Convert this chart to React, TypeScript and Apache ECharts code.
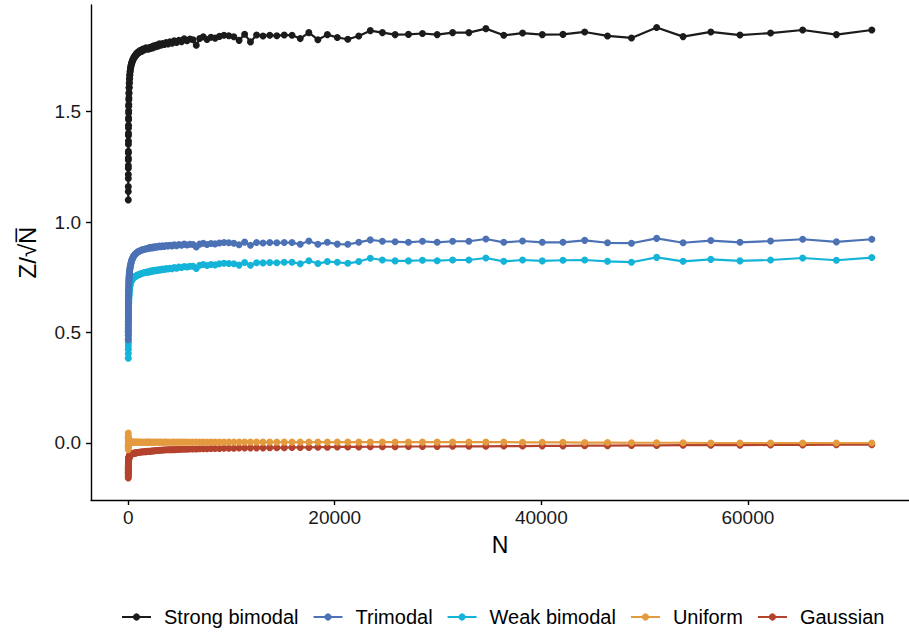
import React, { useEffect, useRef } from "react";
import * as echarts from "echarts";

const N = [
  10, 11, 12, 13, 14, 15, 16, 17, 18, 19,
  20, 22, 24, 26, 28, 30, 33, 36, 39, 42,
  46, 50, 55, 60, 66, 72, 79, 87, 95, 104,
  114, 125, 137, 150, 165, 181, 199, 218, 240, 263,
  289, 317, 348, 382, 420, 461, 506, 556, 611, 671,
  737, 810, 890, 977, 1074, 1180, 1296, 1424, 1564, 1718,
  1840, 1947, 2044, 2147, 2254, 2367, 2485, 2609, 2740, 2877,
  3020, 3171, 3330, 3497, 3671, 3855, 4048, 4250, 4462, 4686,
  4920, 5166, 5424, 5695, 5980, 6279, 6593, 6923, 7269, 7632,
  8014, 8414, 8835, 9277, 9741, 10228, 10739, 11276, 11840, 12432,
  13053, 13706, 14391, 15110, 15866, 16659, 17492, 18367, 19285, 20249,
  21262, 22325, 23441, 24613, 25844, 27136, 28493, 29917, 31413, 32984,
  34633, 36364, 38183, 40092, 42096, 44201, 46411, 48732, 51168, 53727,
  56413, 59234, 62196, 65306, 68571, 72000,
];

const strongBimodal = [
  1.100, 1.138, 1.160, 1.197, 1.215, 1.243, 1.255, 1.281, 1.290, 1.312,
  1.320, 1.352, 1.366, 1.392, 1.402, 1.425, 1.438, 1.463, 1.472, 1.493,
  1.503, 1.524, 1.532, 1.553, 1.561, 1.580, 1.586, 1.606, 1.610, 1.627,
  1.631, 1.647, 1.650, 1.664, 1.668, 1.680, 1.683, 1.695, 1.697, 1.708,
  1.707, 1.718, 1.717, 1.728, 1.727, 1.737, 1.736, 1.747, 1.744, 1.755,
  1.752, 1.763, 1.760, 1.770, 1.767, 1.777, 1.772, 1.783, 1.778, 1.788,
  1.784, 1.782, 1.790, 1.785, 1.793, 1.788, 1.797, 1.792, 1.801, 1.796,
  1.806, 1.800, 1.808, 1.803, 1.812, 1.806, 1.815, 1.809, 1.820, 1.812,
  1.822, 1.816, 1.829, 1.820, 1.828, 1.825, 1.800, 1.830, 1.838, 1.826,
  1.836, 1.832, 1.840, 1.845, 1.843, 1.838, 1.822, 1.850, 1.815, 1.846,
  1.842, 1.845, 1.843, 1.846, 1.845, 1.830, 1.857, 1.825, 1.848, 1.835,
  1.827, 1.842, 1.866, 1.857, 1.848, 1.849, 1.853, 1.848, 1.857, 1.857,
  1.875, 1.845, 1.855, 1.848, 1.849, 1.860, 1.842, 1.833, 1.880, 1.839,
  1.860, 1.846, 1.855, 1.869, 1.848, 1.869,
];

const trimodal = [
  0.467, 0.488, 0.506, 0.522, 0.536, 0.549, 0.561, 0.571, 0.581, 0.590,
  0.598, 0.613, 0.626, 0.637, 0.647, 0.656, 0.668, 0.679, 0.688, 0.696,
  0.704, 0.712, 0.720, 0.727, 0.734, 0.740, 0.746, 0.752, 0.757, 0.762,
  0.767, 0.772, 0.777, 0.782, 0.787, 0.792, 0.797, 0.802, 0.807, 0.812,
  0.817, 0.822, 0.827, 0.831, 0.835, 0.839, 0.843, 0.847, 0.851, 0.854,
  0.857, 0.860, 0.863, 0.866, 0.868, 0.871, 0.873, 0.875, 0.877, 0.879,
  0.879, 0.880, 0.884, 0.882, 0.886, 0.883, 0.888, 0.885, 0.889, 0.887,
  0.891, 0.888, 0.892, 0.889, 0.894, 0.891, 0.895, 0.892, 0.897, 0.893,
  0.898, 0.895, 0.900, 0.896, 0.899, 0.898, 0.887, 0.900, 0.904, 0.898,
  0.903, 0.901, 0.905, 0.907, 0.906, 0.904, 0.897, 0.909, 0.895, 0.907,
  0.905, 0.907, 0.906, 0.907, 0.907, 0.899, 0.914, 0.899, 0.908, 0.900,
  0.899, 0.908, 0.919, 0.913, 0.911, 0.908, 0.913, 0.908, 0.913, 0.913,
  0.923, 0.908, 0.914, 0.908, 0.908, 0.917, 0.906, 0.904, 0.926, 0.906,
  0.916, 0.908, 0.914, 0.922, 0.910, 0.922,
];

const weakBimodal = [
  0.384, 0.405, 0.424, 0.440, 0.455, 0.468, 0.480, 0.491, 0.501, 0.510,
  0.518, 0.533, 0.546, 0.557, 0.567, 0.576, 0.588, 0.598, 0.607, 0.615,
  0.624, 0.632, 0.641, 0.648, 0.656, 0.663, 0.669, 0.676, 0.681, 0.687,
  0.692, 0.697, 0.702, 0.706, 0.711, 0.715, 0.719, 0.722, 0.726, 0.729,
  0.732, 0.735, 0.738, 0.740, 0.743, 0.745, 0.747, 0.749, 0.751, 0.753,
  0.755, 0.757, 0.759, 0.761, 0.763, 0.765, 0.767, 0.769, 0.771, 0.773,
  0.774, 0.773, 0.777, 0.775, 0.779, 0.777, 0.781, 0.779, 0.783, 0.781,
  0.785, 0.783, 0.787, 0.785, 0.789, 0.787, 0.791, 0.789, 0.794, 0.791,
  0.796, 0.794, 0.799, 0.796, 0.800, 0.800, 0.790, 0.804, 0.808, 0.803,
  0.808, 0.806, 0.811, 0.813, 0.812, 0.811, 0.805, 0.817, 0.804, 0.816,
  0.815, 0.817, 0.816, 0.818, 0.818, 0.811, 0.825, 0.812, 0.821, 0.818,
  0.813, 0.821, 0.836, 0.828, 0.824, 0.824, 0.827, 0.825, 0.828, 0.828,
  0.837, 0.822, 0.828, 0.824, 0.827, 0.828, 0.822, 0.818, 0.840, 0.822,
  0.831, 0.824, 0.828, 0.837, 0.827, 0.839,
];

const uniform = [
  0.045, -0.030, 0.030, -0.020, 0.025, -0.015, 0.020, -0.012, 0.018, -0.010,
  0.015, -0.008, 0.013, -0.006, 0.011, -0.004, 0.010, -0.003, 0.009, -0.002,
  0.008, -0.001, 0.007, 0.000, 0.006, 0.001, 0.006, 0.001, 0.005, 0.002,
  0.005, 0.002, 0.005, 0.002, 0.004, 0.003, 0.004, 0.003, 0.004, 0.003,
  0.004, 0.003, 0.004, 0.003, 0.004, 0.003, 0.004, 0.003, 0.004, 0.003,
  0.004, 0.003, 0.004, 0.004, 0.003, 0.004, 0.004, 0.003, 0.004, 0.004,
  0.004, 0.004, 0.003, 0.004, 0.003, 0.004, 0.003, 0.004, 0.004, 0.003,
  0.004, 0.004, 0.003, 0.004, 0.004, 0.004, 0.003, 0.004, 0.004, 0.004,
  0.004, 0.004, 0.004, 0.004, 0.004, 0.004, 0.004, 0.004, 0.004, 0.004,
  0.004, 0.004, 0.004, 0.004, 0.004, 0.004, 0.004, 0.004, 0.004, 0.004,
  0.004, 0.004, 0.004, 0.004, 0.004, 0.004, 0.004, 0.004, 0.004, 0.004,
  0.004, 0.004, 0.004, 0.004, 0.004, 0.004, 0.004, 0.004, 0.004, 0.004,
  0.004, 0.004, 0.003, 0.003, 0.003, 0.002, 0.002, 0.001, 0.001, 0.001,
  0.000, 0.000, 0.000, 0.000, 0.000, 0.000,
];

const gaussian = [
  -0.158, -0.150, -0.143, -0.137, -0.132, -0.127, -0.123, -0.119, -0.116, -0.113,
  -0.110, -0.105, -0.101, -0.097, -0.094, -0.091, -0.088, -0.085, -0.082, -0.080,
  -0.077, -0.075, -0.073, -0.071, -0.069, -0.067, -0.065, -0.063, -0.062, -0.060,
  -0.059, -0.058, -0.057, -0.056, -0.055, -0.054, -0.053, -0.053, -0.052, -0.051,
  -0.051, -0.050, -0.050, -0.049, -0.049, -0.048, -0.047, -0.047, -0.046, -0.045,
  -0.045, -0.044, -0.043, -0.043, -0.042, -0.041, -0.041, -0.040, -0.039, -0.039,
  -0.038, -0.038, -0.037, -0.037, -0.036, -0.036, -0.035, -0.035, -0.034, -0.034,
  -0.033, -0.033, -0.032, -0.032, -0.031, -0.031, -0.030, -0.030, -0.030, -0.029,
  -0.029, -0.028, -0.028, -0.028, -0.027, -0.027, -0.027, -0.026, -0.026, -0.026,
  -0.025, -0.025, -0.025, -0.024, -0.024, -0.024, -0.023, -0.023, -0.022, -0.022,
  -0.022, -0.021, -0.021, -0.021, -0.020, -0.020, -0.020, -0.019, -0.019, -0.018,
  -0.018, -0.018, -0.017, -0.017, -0.017, -0.016, -0.016, -0.016, -0.015, -0.015,
  -0.015, -0.014, -0.014, -0.013, -0.013, -0.012, -0.012, -0.011, -0.011, -0.010,
  -0.010, -0.010, -0.009, -0.009, -0.008, -0.008,
];

const legendOrder = ["Strong bimodal", "Trimodal", "Weak bimodal", "Uniform", "Gaussian"];
const xTicks = [0, 20000, 40000, 60000];
const yTicks = [0, 0.5, 1.0, 1.5];

const FONT = "'Liberation Sans', Arial, Helvetica, sans-serif";

const seriesDefs = [
  { name: "Gaussian", values: gaussian, color: "#b4432d" },
  { name: "Uniform", values: uniform, color: "#e49b3f" },
  { name: "Weak bimodal", values: weakBimodal, color: "#14b4d8" },
  { name: "Trimodal", values: trimodal, color: "#4c72b5" },
  { name: "Strong bimodal", values: strongBimodal, color: "#1b1b1b" },
];

export default function App() {
  const ref = useRef<HTMLDivElement>(null);
  useEffect(() => {
    if (!ref.current) return;
    const chart = echarts.init(ref.current, undefined, { renderer: "svg" });
    chart.setOption({
      animation: false,
      textStyle: { fontFamily: FONT },
      grid: { left: 91, top: 5, width: 828, height: 495, containLabel: false },
      xAxis: {
        type: "value",
        min: -3600,
        max: 75600,
        name: "N",
        nameLocation: "middle",
        nameGap: 33,
        nameTextStyle: { fontSize: 23, color: "#000", fontFamily: FONT },
        axisLine: { show: true, onZero: false, lineStyle: { color: "#000", width: 1.4 } },
        axisTick: { show: true, length: 5, lineStyle: { color: "#000", width: 1.4 }, customValues: xTicks },
        axisLabel: {
          customValues: xTicks,
          formatter: (v: number) => String(v),
          fontSize: 19,
          color: "#1a1a1a",
          margin: 8,
          fontFamily: FONT,
        },
        splitLine: { show: false },
      },
      yAxis: {
        type: "value",
        min: -0.258,
        max: 1.982,
        name: "Z/\u221AN\u0305",
        nameLocation: "middle",
        nameRotate: 90,
        nameGap: 52,
        nameTextStyle: { fontSize: 24, color: "#000", fontFamily: FONT },
        axisLine: { show: true, onZero: false, lineStyle: { color: "#000", width: 1.4 } },
        axisTick: { show: true, length: 5, lineStyle: { color: "#000", width: 1.4 }, customValues: yTicks },
        axisLabel: {
          customValues: yTicks,
          formatter: (v: number) => v.toFixed(1),
          fontSize: 19,
          color: "#1a1a1a",
          margin: 10,
          fontFamily: FONT,
        },
        splitLine: { show: false },
      },
      legend: {
        data: legendOrder,
        orient: "horizontal",
        left: 116,
        top: 602,
        itemWidth: 29,
        itemHeight: 9,
        itemGap: 14,
        textStyle: { fontSize: 20, color: "#000", fontFamily: FONT, padding: [0, 0, 0, 8] },
      },
      series: seriesDefs.map((s) => ({
        name: s.name,
        type: "line",
        data: N.map((n, i) => [n, s.values[i]]),
        symbol: "circle",
        symbolSize: 7,
        showSymbol: true,
        showAllSymbol: true,
        lineStyle: { color: s.color, width: 2.2 },
        itemStyle: { color: s.color },
        emphasis: { disabled: true },
      })),
    });
    return () => chart.dispose();
  }, []);
  return (
    <div
      ref={ref}
      style={{ position: "fixed", left: 0, top: 0, width: 909, height: 635, background: "#fff" }}
    />
  );
}
